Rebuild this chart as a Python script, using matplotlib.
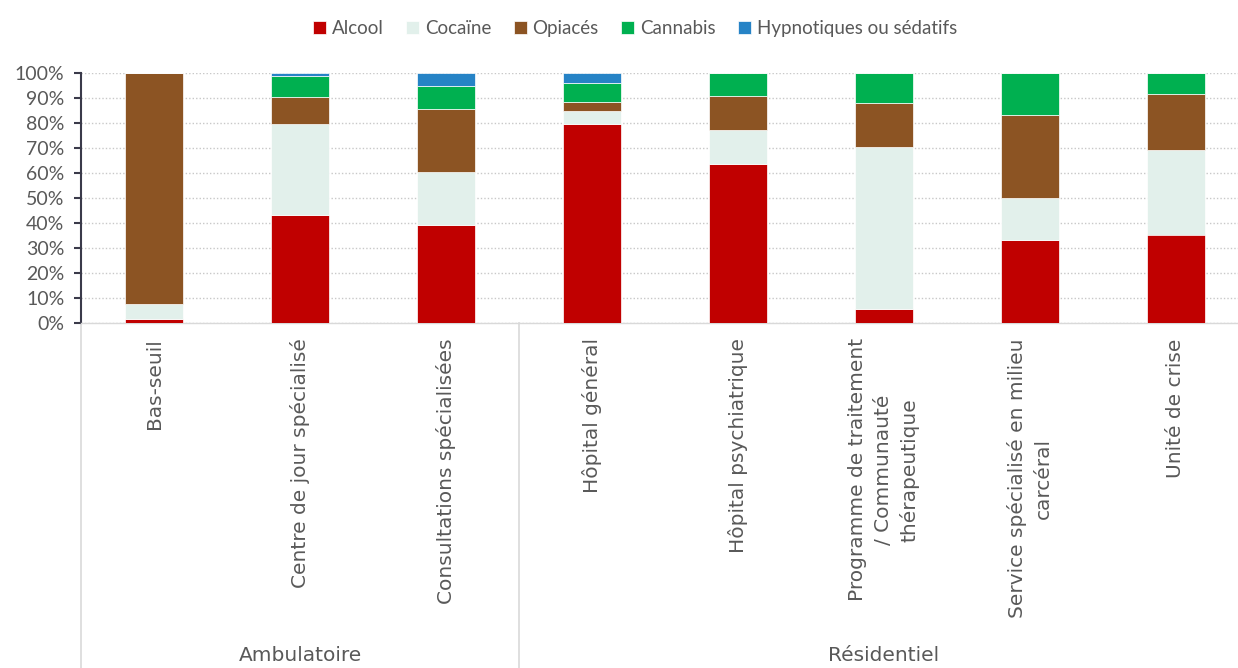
import numpy as np
import matplotlib.pyplot as plt
from matplotlib.ticker import PercentFormatter

plt.rcParams['font.family'] = ['Lato', 'DejaVu Sans']

# Treatment settings (x axis) and their groups
categories = [
    "Bas-seuil",
    "Centre de jour spécialisé",
    "Consultations spécialisées",
    "Hôpital général",
    "Hôpital psychiatrique",
    "Programme de traitement\n/ Communauté\nthérapeutique",
    "Service spécialisé en milieu\ncarcéral",
    "Unité de crise",
]
groups = ["Ambulatoire", "Résidentiel"]
group_sizes = [3, 5]

# Share of each main substance per setting (%)
alcool      = [1.5, 43.2, 39.2, 79.8, 63.5,  5.6, 33.3, 35.4]
cocaine     = [6.0, 36.6, 21.4,  5.1, 13.6, 64.9, 16.7, 34.0]
opiaces     = [92.5, 10.8, 25.2, 3.7, 13.7, 17.7, 33.3, 22.2]
cannabis    = [0.0,  8.3,  9.0,  7.4,  9.2, 11.8, 16.7,  8.4]
hypnotiques = [0.0,  1.1,  5.2,  4.0,  0.0,  0.0,  0.0,  0.0]

series = [
    ("Alcool", alcool, "#C00000"),
    ("Cocaïne", cocaine, "#E2F0EB"),
    ("Opiacés", opiaces, "#8C5423"),
    ("Cannabis", cannabis, "#00B050"),
    ("Hypnotiques ou sédatifs", hypnotiques, "#2683C6"),
]

text_col = "#595959"
W, H = 1238, 668
fig = plt.figure(figsize=(W / 100, H / 100), dpi=100)
ax = fig.add_axes([81 / W, (H - 323) / H, 1168 / W, 250 / H])

x = np.arange(len(categories))
bottom = np.zeros(len(categories))
for name, vals, col in series:
    vals = np.array(vals) / 100
    ax.bar(x, vals, width=0.4, bottom=bottom, color=col, label=name,
           edgecolor="white", linewidth=0.5, zorder=3)
    bottom += vals

ax.set_xlim(-0.5, len(categories) - 0.5)
ax.set_ylim(0, 1)
ax.set_yticks(np.arange(0, 1.01, 0.1))
ax.yaxis.set_major_formatter(PercentFormatter(1.0, decimals=0))
ax.yaxis.grid(True, linestyle=(0, (1, 1.5)), color="#c8c8c8", linewidth=1, zorder=0)

ax.set_xticks(x)
ax.set_xticklabels(categories, rotation=90, multialignment="center",
                   family="DejaVu Sans", linespacing=1.45)
ax.tick_params(axis="x", length=0, pad=11, labelsize=14.5, labelcolor=text_col)
ax.tick_params(axis="y", length=5, width=1.5, color="#3a3a4a", direction="out",
               labelsize=14, labelcolor=text_col, pad=7)

for s in ["top", "right"]:
    ax.spines[s].set_visible(False)
ax.spines["left"].set_color("#3a3a4a")
ax.spines["left"].set_linewidth(1.5)
ax.spines["bottom"].set_color("#d9d9d9")
ax.spines["bottom"].set_linewidth(1)

# group separators and group names below the category labels
trans = ax.get_xaxis_transform()
y_end = -345 / 250
edges = np.concatenate([[0], np.cumsum(group_sizes)]) - 0.5
for e in edges:
    ax.plot([e, e], [0, y_end], transform=trans, color="#d9d9d9",
            linewidth=1.2, clip_on=False)
for g, lo, hi in zip(groups, edges[:-1], edges[1:]):
    ax.text((lo + hi) / 2, -333 / 250, g, transform=trans, ha="center",
            va="center", fontsize=14.5, color=text_col, family="DejaVu Sans")

fig.legend(loc="upper center", bbox_to_anchor=(0.513, 0.995), ncol=5, frameon=False,
           fontsize=13.5, handlelength=0.7, handleheight=0.7, handletextpad=0.3,
           columnspacing=1.2, labelcolor=text_col)

fig.savefig("out.png", dpi=100)
